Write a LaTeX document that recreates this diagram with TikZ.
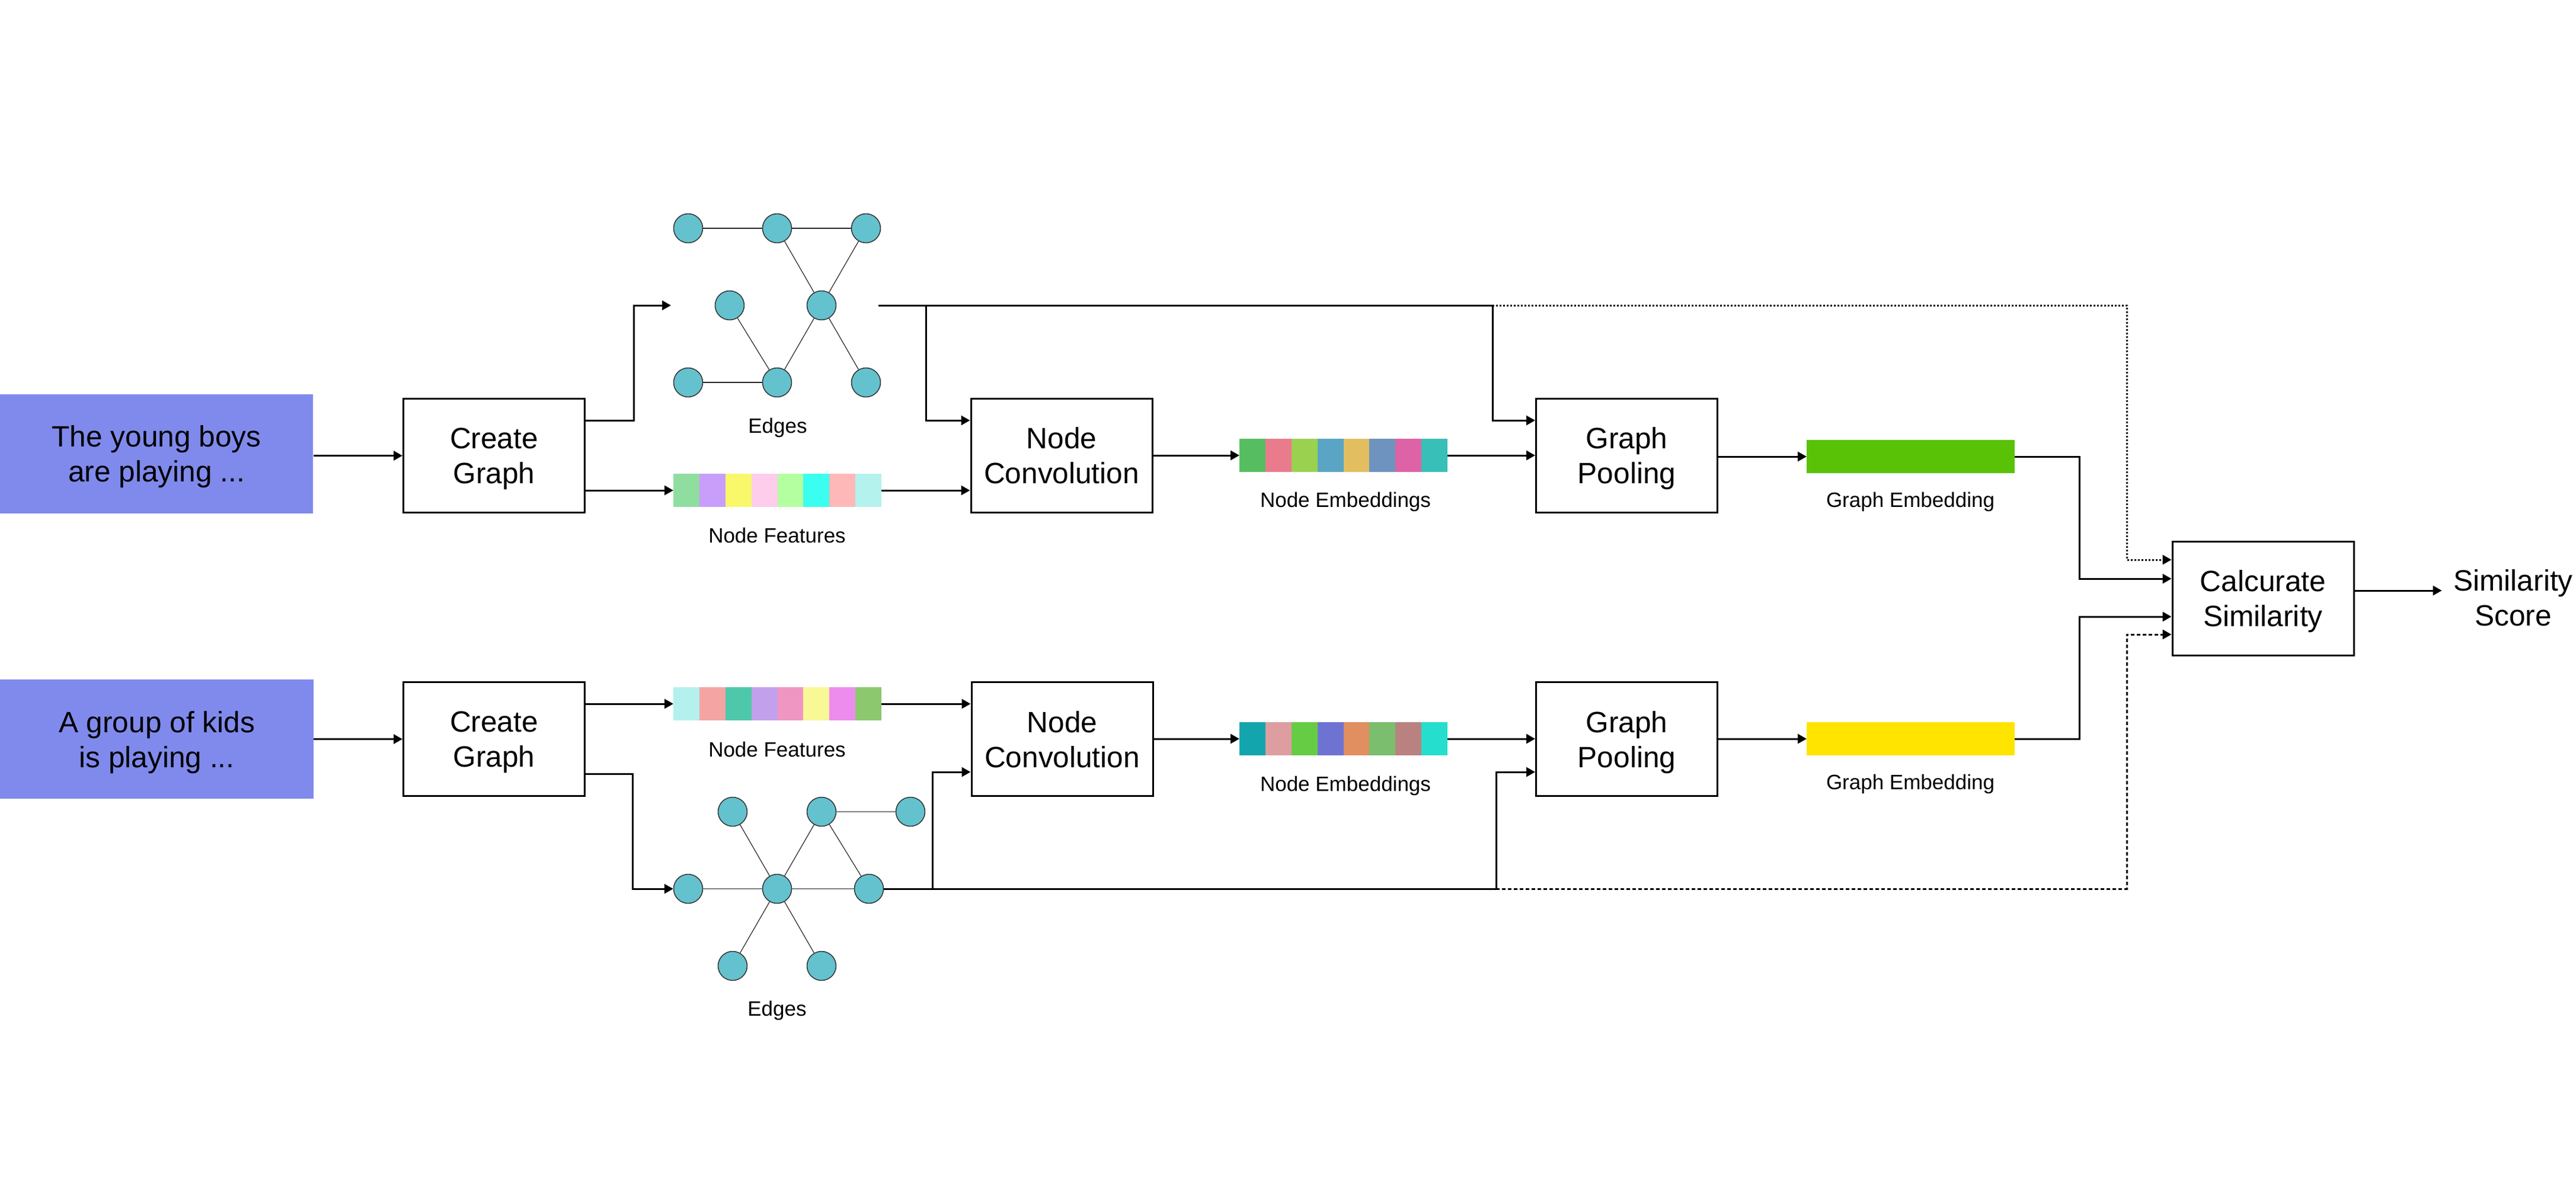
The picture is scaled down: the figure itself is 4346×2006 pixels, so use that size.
\documentclass[tikz,border=0pt]{standalone}
\usepackage{fontspec}
\setmainfont{Liberation Sans}
\usetikzlibrary{arrows.meta}
\definecolor{txtblue}{RGB}{128,138,236}
\definecolor{gnode}{RGB}{100,194,206}
\definecolor{gedgegray}{RGB}{128,128,128}
\definecolor{geGreen}{RGB}{90,194,6}
\definecolor{geYellow}{RGB}{255,228,0}
\newcommand\mainsz{\fontsize{12.4}{14.75}\selectfont}
\newcommand\lblsz{\fontsize{8.75}{10.5}\selectfont}
\newcommand\cellbar[3]{\foreach \cR/\cG/\cB [count=\ci from 0] in {#3} {\definecolor{tmpc}{RGB}{\cR,\cG,\cB}\fill[tmpc] (#1+\ci*43.875,#2) rectangle ++(43.875,56);}}
\begin{document}
\begin{tikzpicture}[x=0.25pt,y=-0.25pt,
 line/.style={line width=0.75pt},
 arr/.style={line width=0.75pt,-{Triangle[length=3.75pt,width=4pt]}},
 dotarr/.style={arr,dash pattern=on 0.75pt off 0.75pt},
 dasharr/.style={arr,dash pattern=on 1.5pt off 1pt},
 box/.style={draw,line width=0.75pt,minimum width=76.5pt,minimum height=48pt,inner sep=0pt,align=center,font=\mainsz,text depth=0pt},
 intext/.style={fill=txtblue,minimum width=132pt,minimum height=50.25pt,inner sep=0pt,align=center,font=\mainsz,text depth=0pt},
 barnode/.style={minimum width=87.75pt,minimum height=14pt,inner sep=0pt,outer sep=0pt},
 gn/.style={circle,draw=black!80,fill=gnode,line width=0.375pt,minimum size=12.25pt,inner sep=0pt},
 gedgeS/.style={line width=0.3pt,draw=black!85},
 gedgeH/.style={line width=0.5pt,draw=gedgegray},
 lbl/.style={font=\lblsz,inner sep=0pt,anchor=base},
]
\useasboundingbox (0,0) rectangle (4346,2006);

% ---------- colour bars ----------
\cellbar{1136}{799}{143/222/160,200/158/250,248/248/106,253/205/235,180/255/160,58/255/240,255/184/184,180/242/238}
\cellbar{1136}{1159}{180/240/238,245/164/164,78/200/170,195/160/235,240/150/195,248/248/150,238/140/238,140/200/110}
\cellbar{2091}{740}{86/190/96,233/123/141,154/210/80,90/164/196,226/190/96,109/147/190,222/98/166,56/191/183}
\cellbar{2091}{1218}{19/165/173,222/157/160,102/204/68,110/115/210,225/142/96,122/190/110,185/130/128,38/222/205}
\node[barnode] (nf1) at (1311.5,827) {};
\node[barnode] (nf2) at (1311.5,1187) {};
\node[barnode] (ne1) at (2266.5,768) {};
\node[barnode] (ne2) at (2266.5,1246) {};
\node[barnode,fill=geGreen] (ge1) at (3223.5,770) {};
\node[barnode,fill=geYellow] (ge2) at (3223.5,1246) {};

% ---------- main nodes ----------
\node[intext] (t1) at (264,765.5) {The young boys\\are playing ...};
\node[intext] (t2) at (264.5,1246.5) {A group of kids\\is playing ...};
\node[box] (cg1) at (833.5,768.5) {Create\\Graph};
\node[box] (cg2) at (833.5,1246.5) {Create\\Graph};
\node[box] (nc1) at (1791,768.5) {Node\\Convolution};
\node[box] (nc2) at (1792,1246.5) {Node\\Convolution};
\node[box] (gp1) at (2744.5,768.5) {Graph\\Pooling};
\node[box] (gp2) at (2744.5,1246.5) {Graph\\Pooling};
\node[box] (calc) at (3818,1009) {Calcurate\\Similarity};
\node[font=\mainsz,align=center,inner ysep=0pt,inner xsep=4.75pt,text depth=0pt] (score) at (4240,1008) {Similarity\\Score};

% ---------- labels ----------
\node[lbl] (lE1) at (1312,730) {Edges};
\node[lbl] (lNF1) at (1311,915) {Node Features};
\node[lbl] (lNF2) at (1311,1276) {Node Features};
\node[lbl] (lE2) at (1311,1713) {Edges};
\node[lbl] (lNE1) at (2270,855) {Node Embeddings};
\node[lbl] (lNE2) at (2270,1334) {Node Embeddings};
\node[lbl] (lGE1) at (3223,855) {Graph Embedding};
\node[lbl] (lGE2) at (3223,1331) {Graph Embedding};

% ---------- top graph ----------
\node[gn] (A1) at (1161,385) {};
\node[gn] (A2) at (1311,385) {};
\node[gn] (A3) at (1461,385) {};
\node[gn] (B1) at (1231,515) {};
\node[gn] (B2) at (1386,515) {};
\node[gn] (C1) at (1161,645) {};
\node[gn] (C2) at (1311,645) {};
\node[gn] (C3) at (1461,645) {};
\draw[gedgeS] (A1) -- (A2);
\draw[gedgeS] (A2) -- (A3);
\draw[gedgeS] (A2) -- (B2);
\draw[gedgeS] (A3) -- (B2);
\draw[gedgeS] (B1) -- (C2);
\draw[gedgeS] (B2) -- (C2);
\draw[gedgeS] (B2) -- (C3);
\draw[gedgeS] (C1) -- (C2);

% ---------- bottom graph ----------
\node[gn] (P1) at (1161,1499) {};
\node[gn] (P2) at (1311,1499) {};
\node[gn] (P3) at (1466,1499) {};
\node[gn] (Q1) at (1236,1369) {};
\node[gn] (Q2) at (1386,1369) {};
\node[gn] (Q3) at (1536,1369) {};
\node[gn] (R1) at (1236,1629) {};
\node[gn] (R2) at (1386,1629) {};
\draw[gedgeH] (P1) -- (P2);
\draw[gedgeH] (P2) -- (P3);
\draw[gedgeH] (Q2) -- (Q3);
\draw[gedgeS] (Q1) -- (P2);
\draw[gedgeS] (Q2) -- (P2);
\draw[gedgeS] (Q2) -- (P3);
\draw[gedgeS] (R1) -- (P2);
\draw[gedgeS] (R2) -- (P2);

% ---------- helper coordinates ----------
\coordinate (yA) at (0,709);
\coordinate (yC) at (0,1305);
\coordinate (yD) at (0,1302);
\coordinate (e1in) at (1132,515);
\coordinate (e1out) at (1482,515);
\coordinate (k1) at (1069,515);
\coordinate (k2) at (1562,515);
\coordinate (k3) at (2518,515);
\coordinate (k4) at (3588,944);
\coordinate (k5) at (3508,976);
\coordinate (k6) at (3508,1040);
\coordinate (k7) at (0,996);
\coordinate (k8) at (1067,1499);
\coordinate (k9) at (2524,1499);
\coordinate (k10) at (3588,1070);
\coordinate (k11) at (1573,1499);

% ---------- top branch ----------
\draw[arr] (t1.east |- cg1.west) -- (cg1.west);
\draw[arr] (cg1.east |- yA) -| (k1) -- (e1in);
\draw[arr] (cg1.east |- nf1.west) -- (nf1.west);
\draw[arr] (nf1.east) -- (nc1.west |- nf1.east);
\draw[line] (e1out) -- (k3);
\draw[arr] (k2) |- (nc1.west |- yA);
\draw[arr] (k3) |- (gp1.west |- yA);
\draw[dotarr] (k3) -| (k4) -- (calc.west |- k4);
\draw[arr] (nc1.east |- ne1.west) -- (ne1.west);
\draw[arr] (ne1.east) -- (gp1.west |- ne1.east);
\draw[arr] (gp1.east |- ge1.west) -- (ge1.west);
\draw[arr] (ge1.east) -| (k5) -- (calc.west |- k5);

% ---------- bottom branch ----------
\draw[arr] (t2.east |- cg2.west) -- (cg2.west);
\draw[arr] (cg2.east |- nf2.west) -- (nf2.west);
\draw[arr] (nf2.east) -- (nc2.west |- nf2.east);
\draw[arr] (cg2.east |- yC) -| (k8) -- (P1);
\draw[line] (P3) -- (k9);
\draw[arr] (k11) |- (nc2.west |- yD);
\draw[arr] (k9) |- (gp2.west |- yD);
\draw[dasharr] (k9) -| (k10) -- (calc.west |- k10);
\draw[arr] (nc2.east |- ne2.west) -- (ne2.west);
\draw[arr] (ne2.east) -- (gp2.west |- ne2.east);
\draw[arr] (gp2.east |- ge2.west) -- (ge2.west);
\draw[arr] (ge2.east) -| (k6) -- (calc.west |- k6);

% ---------- output ----------
\draw[arr] (calc.east |- k7) -- (score.west |- k7);
\end{tikzpicture}
\end{document}
